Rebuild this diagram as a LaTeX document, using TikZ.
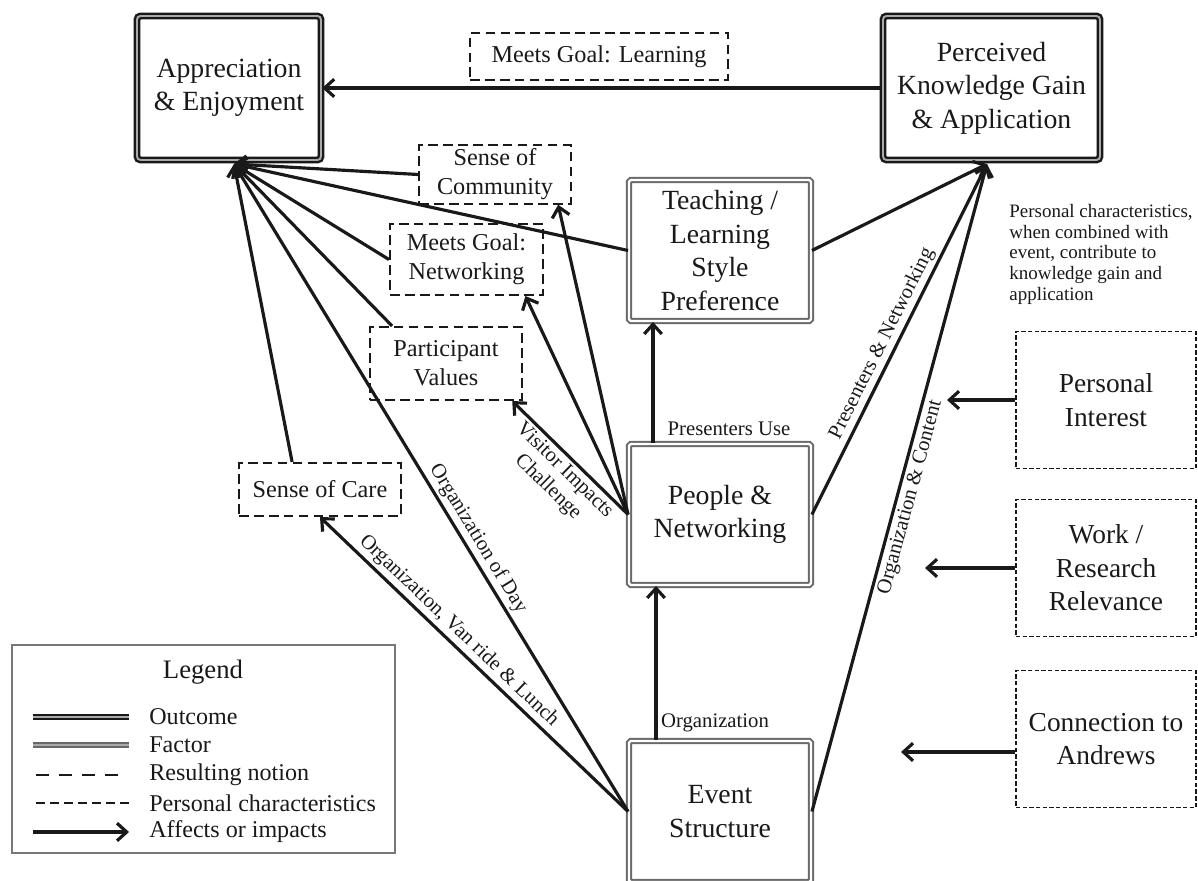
\documentclass[tikz,border=0pt]{standalone}
\usepackage{fontspec}
\setmainfont{Liberation Serif}
\usetikzlibrary{arrows.meta,positioning,calc}
\definecolor{FwBlack}{RGB}{25,25,25}
\definecolor{FwGray}{RGB}{105,105,105}
\definecolor{FwLightGray}{RGB}{170,170,170}
\definecolor{FwFrame}{RGB}{120,120,120}
\tikzset{
  fw/outline/.style={draw=FwBlack, line width=1.4pt, double=FwLightGray, double distance=1.1pt},
  fw/factorline/.style={draw=FwGray, line width=1.1pt, double=white, double distance=1.3pt},
  fw/notionline/.style={draw=FwBlack, line width=1.2pt, dash pattern=on 5.5pt off 3pt},
  fw/personalline/.style={draw=FwBlack, line width=0.8pt, dash pattern=on 2.5pt off 1.3pt},
  fw/outcome/.style={
    fw/outline,
    rounded corners=2pt,
    fill=white,
    align=center,
    text=FwBlack,
    font=\fontsize{15.8}{19}\selectfont
  },
  fw/factor/.style={
    fw/factorline,
    rounded corners=1pt,
    fill=white,
    align=center,
    text=FwBlack,
    minimum width=3.64cm,
    minimum height=2.82cm,
    font=\fontsize{15.8}{19}\selectfont
  },
  fw/notion/.style={
    fw/notionline,
    fill=white,
    align=center,
    text=FwBlack,
    inner sep=2pt,
    font=\fontsize{13.8}{16.5}\selectfont
  },
  fw/personal/.style={
    fw/personalline,
    fill=white,
    align=center,
    text=FwBlack,
    minimum width=3.6cm,
    minimum height=2.74cm,
    font=\fontsize{15.6}{19}\selectfont
  },
  fw/arrow/.style={-{Straight Barb[length=5.5pt,width=10pt]}, line width=1.8pt, draw=FwBlack},
  fw/edgelabel/.style={font=\fontsize{11.8}{13.5}\selectfont, text=FwBlack, inner sep=1.5pt},
  fw/note/.style={font=\fontsize{10.8}{11.8}\selectfont, text=FwBlack, align=left, inner sep=0pt},
  fw/legendbox/.style={draw=FwFrame, line width=1pt},
  fw/legtitle/.style={font=\fontsize{15.2}{18}\selectfont, text=FwBlack},
  fw/legtext/.style={font=\fontsize{13.7}{16}\selectfont, text=FwBlack, anchor=west, inner sep=0pt}
}

\begin{document}
\begin{tikzpicture}[x=0.02cm,y=-0.02cm]
  \useasboundingbox (0,0) rectangle (1198,881);
  \node[fw/outcome, minimum width=3.68cm, minimum height=2.88cm] (app) at (229,88) {Appreciation\\\& Enjoyment};
  \node[fw/outcome, minimum width=4.34cm, minimum height=2.88cm] (kg) at (991.5,88) {Perceived\\Knowledge Gain\\\& Application};
  \node[fw/factor] (teach) at (720,250.5) {Teaching /\\Learning\\Style\\Preference};
  \node[fw/factor] (ppl) at (720,514.5) {People \&\\Networking};
  \node[fw/factor] (evt) at (720,811.5) {Event\\Structure};
  \node[fw/notion, minimum width=5.16cm, minimum height=0.94cm] (goallearn) at (599,56.5) {Meets Goal: Learning};
  \node[fw/notion, minimum width=3.04cm, minimum height=1.14cm] (comm) at (495,174.5) {Sense of\\Community};
  \node[fw/notion, minimum width=3.06cm, minimum height=1.42cm] (goalnet) at (466.5,259.5) {Meets Goal:\\Networking};
  \node[fw/notion, minimum width=3.04cm, minimum height=1.46cm] (values) at (446,363.5) {Participant\\Values};
  \node[fw/notion, minimum width=3.24cm, minimum height=1.06cm] (care) at (320,489.5) {Sense of Care};
  \node[fw/personal] (interest) at (1106,400) {Personal\\Interest};
  \node[fw/personal] (work) at (1106,568) {Work /\\Research\\Relevance};
  \node[fw/personal] (andrews) at (1106,739) {Connection to\\Andrews};
  \node[fw/note, anchor=north west] (note) at (1009,204) {Personal characteristics,\\when combined with\\event, contribute to\\knowledge gain and\\application};
  \coordinate (apphub) at (234,164);
  \coordinate (kghub) at (987,164);
  \coordinate (interesttip) at (947,400);
  \coordinate (worktip) at (925,568);
  \coordinate (andrewstip) at (901,752);
  \draw[fw/arrow] (kg) -- (app);
  \draw[fw/arrow] (comm.west) -- (apphub);
  \draw[fw/arrow] (teach.west) -- (apphub);
  \draw[fw/arrow] (goalnet.west) -- (apphub);
  \draw[fw/arrow] ($(values.north west)!0.15!(values.north east)$) -- (apphub);
  \draw[fw/arrow] ($(care.north west)!0.33!(care.north east)$) -- (apphub);
  \draw[fw/arrow] (evt.west) -- node[fw/edgelabel, sloped, above, pos=0.41] {Organization of Day} (apphub);
  \draw[fw/arrow] (evt.west) -- node[fw/edgelabel, sloped, above, pos=0.58] {Organization, Van ride \& Lunch} (care.south);
  \draw[fw/arrow] (ppl.west) -- ($(comm.south west)!0.91!(comm.south east)$);
  \draw[fw/arrow] (ppl.west) -- ($(goalnet.south west)!0.88!(goalnet.south east)$);
  \draw[fw/arrow] (ppl.west) -- node[fw/edgelabel, sloped, below, pos=0.47, align=center] {Visitor Impacts\\Challenge} ($(values.south west)!0.93!(values.south east)$);
  \draw[fw/arrow] ([xshift=-1.34cm]ppl.north) -- ([xshift=-1.34cm]teach.south);
  \draw[fw/arrow] ([xshift=-1.28cm]evt.north) -- ([xshift=-1.28cm]ppl.south);
  \draw[fw/arrow] (teach.east) -- (kghub);
  \draw[fw/arrow] (ppl.east) -- node[fw/edgelabel, sloped, above, pos=0.47] {Presenters \& Networking} (kghub);
  \draw[fw/arrow] (evt.east) -- node[fw/edgelabel, sloped, below, pos=0.49] {Organization \& Content} (kghub);
  \draw[fw/arrow] (interest.west) -- (interesttip);
  \draw[fw/arrow] (work.west) -- (worktip);
  \draw[fw/arrow] (andrews.west |- andrewstip) -- (andrewstip);
  \node[fw/edgelabel] (preslabel) at (729,429) {Presenters Use};
  \node[fw/edgelabel] (orglabel) at (715,723) {Organization};
  \node[fw/legendbox, minimum width=7.66cm, minimum height=4.16cm] (legend) at (203.5,749) {};
  \node[fw/legtitle] (legtitle) at (203,672) {Legend};
  \node[fw/legtext] (legout) at (149,717) {Outcome};
  \node[fw/legtext] (legfac) at (149,745) {Factor};
  \node[fw/legtext] (legnot) at (149,775) {Resulting notion};
  \node[fw/legtext] (legper) at (149,803) {Personal characteristics};
  \node[fw/legtext] (legaff) at (149,832) {Affects or impacts};
  \draw[fw/outline] ([xshift=-0.4cm]legout.west) -- ++(-96,0);
  \draw[fw/factorline, double=FwLightGray] ([xshift=-0.4cm]legfac.west) -- ++(-96,0);
  \draw[fw/notionline, line width=1.7pt, dash pattern=on 7.5pt off 5.5pt] ([xshift=-0.62cm]legnot.west) -- ++(-85,0);
  \draw[fw/personalline, line width=1.7pt, dash pattern=on 5pt off 3pt] ([xshift=-0.4cm]legper.west) -- ++(-96,0);
  \draw[fw/arrow] ([xshift=-2.32cm]legaff.west) -- ++(96,0);
\end{tikzpicture}
\end{document}
